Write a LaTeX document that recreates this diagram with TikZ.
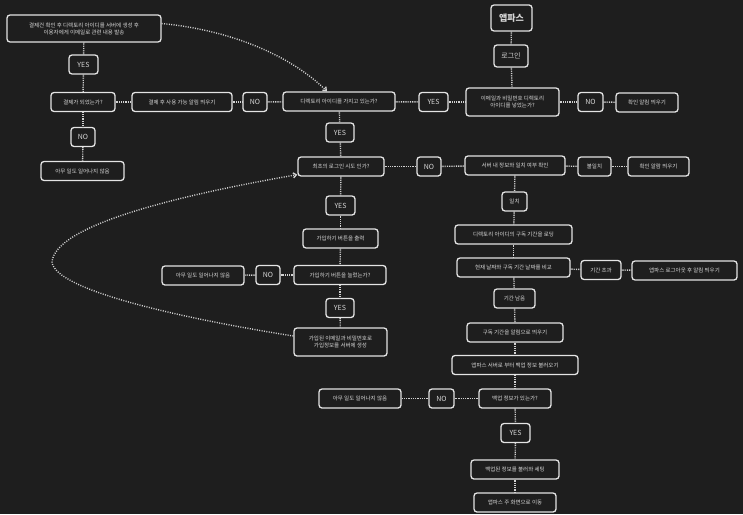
\documentclass[tikz,border=0pt]{standalone}
\usepackage{fontspec}
\newfontfamily\krfont{Noto Sans CJK KR}
\usetikzlibrary{arrows.meta}
\definecolor{bgdark}{RGB}{30,30,30}
\definecolor{boxline}{RGB}{228,228,228}
\definecolor{boxtext}{RGB}{215,215,215}
\definecolor{dotline}{RGB}{210,210,210}
\begin{document}
\begin{tikzpicture}[x=1pt, y=-1pt,
  box/.style={draw=boxline, fill=bgdark, text=boxtext, rounded corners=3pt, line width=1.3pt, minimum height=19pt, inner sep=1pt, align=center, font=\krfont\fontsize{5.5}{7}\selectfont},
  answer/.style={box, font=\krfont\fontsize{7}{8}\selectfont},
  link/.style={draw=dotline, line width=1.4pt, dash pattern=on 0.9pt off 0.9pt},
  jump/.style={draw=dotline, line width=1.4pt, dash pattern=on 1pt off 1.4pt, -{Straight Barb[length=3pt,width=5pt]}}]
\fill[bgdark] (0,0) rectangle (743,514);
\useasboundingbox (0,0) rectangle (743,514);
% payment branch
\node[box, minimum width=154pt, minimum height=27pt] (payok) at (84,28.5) {결제건 확인 후 디렉토리 아이디를 서버에 생성 후\\이용자에게 이메일로 관련 내용 발송};
\node[answer, minimum width=29pt] (yesa) at (83.5,64.5) {YES};
\node[box, minimum width=64pt] (paid) at (83,102) {결제가 되었는가?};
\node[answer, minimum width=24pt] (noa) at (83,137) {NO};
\node[box, minimum width=83pt] (nothinga) at (82.5,171) {아무 일도 일어나지 않음};
\node[box, minimum width=100pt] (usable) at (182,102) {결제 후 사용 가능 알림 띄우기};
\node[answer, minimum width=24pt] (nob) at (255,102) {NO};
% login
\node[box, minimum width=41pt, minimum height=26pt, font=\krfont\bfseries\fontsize{9}{10}\selectfont] (app) at (511.5,18) {앱파스};
\node[box, minimum width=34pt, minimum height=22pt, font=\krfont\fontsize{7}{8}\selectfont] (login) at (511,56) {로그인};
\node[box, minimum width=112pt] (hasdir) at (339,101.5) {디렉토리 아이디를 가지고 있는가?};
\node[answer, minimum width=29pt] (yesb) at (433.5,102) {YES};
\node[box, minimum width=93pt, minimum height=28pt] (entered) at (512.5,102) {이메일과 비밀번호 디렉토리\\아이디를 넣었는가?};
\node[answer, minimum width=25pt] (noc) at (590.5,102) {NO};
\node[box, minimum width=62pt] (alerta) at (647,102.5) {확인 알림 띄우기};
\node[answer, minimum width=28pt] (yesc) at (340,132.5) {YES};
\node[box, minimum width=86pt] (first) at (341,166.5) {최초의 로그인 시도 인가?};
\node[answer, minimum width=24pt] (nod) at (429,166.5) {NO};
\node[box, minimum width=100pt] (match) at (515,165.5) {서버 내 정보와 일치 여부 확인};
\node[box, minimum width=33pt] (mismatch) at (594.5,166.5) {불일치};
\node[box, minimum width=61pt] (alertb) at (658.5,166.5) {확인 알람 띄우기};
% subscription
\node[box, minimum width=25pt] (matched) at (514.5,201.5) {일치};
\node[box, minimum width=117pt] (loadterm) at (513.5,234.5) {디렉토리 아이디의 구독 기간을 로딩};
\node[box, minimum width=113pt] (compare) at (513.5,267.5) {현재 날짜와 구독 기간 날짜를 비교};
\node[box, minimum width=40pt] (expired) at (601,270) {기간 초과};
\node[box, minimum width=105pt] (logout) at (684.5,270.5) {앱파스 로그아웃 후 알림 띄우기};
\node[box, minimum width=41pt] (remain) at (514.5,298.5) {기간 남음};
\node[box, minimum width=96pt] (showterm) at (515,332.5) {구독 기간을 알림으로 띄우기};
% backup
\node[box, minimum width=126pt] (fetch) at (515,365) {앱파스 서버로 부터 백업 정보 불러오기};
\node[box, minimum width=72pt] (hasbackup) at (515,398.5) {백업 정보가 있는가?};
\node[answer, minimum width=25pt] (noe) at (441.5,398.5) {NO};
\node[box, minimum width=82pt] (nothingc) at (360,398.5) {아무 일도 일어나지 않음};
\node[answer, minimum width=29pt] (yese) at (515.5,433) {YES};
\node[box, minimum width=88pt] (restore) at (515,469.5) {백업된 정보를 불러와 세팅};
\node[box, minimum width=82pt] (home) at (515,502.5) {앱파스 주 화면으로 이동};
% sign up
\node[answer, minimum width=29pt] (yesd) at (340.5,205.5) {YES};
\node[box, minimum width=75pt] (showbtn) at (340.5,238.5) {가입하기 버튼을 출력};
\node[box, minimum width=92pt] (pressed) at (340,275) {가입하기 버튼을 눌렀는가?};
\node[answer, minimum width=24pt] (nof) at (268,275) {NO};
\node[box, minimum width=82pt] (nothingb) at (203,275.5) {아무 일도 일어나지 않음};
\node[answer, minimum width=28pt] (yesf) at (340,308) {YES};
\node[box, minimum width=93pt, minimum height=28pt] (signup) at (340.5,342) {가입된 이메일과 비밀번호로\\가입정보를 서버에 생성};
% links
\draw[link] (payok) -- (yesa);
\draw[link] (yesa) -- (paid);
\draw[link] (paid) -- (noa);
\draw[link] (noa) -- (nothinga);
\draw[link] (paid) -- (usable);
\draw[link] (usable) -- (nob);
\draw[link] (nob) -- (hasdir);
\draw[link] (app) -- (login);
\draw[link] (login) -- (entered);
\draw[link] (hasdir) -- (yesb);
\draw[link] (yesb) -- (entered);
\draw[link] (entered) -- (noc);
\draw[link] (noc) -- (alerta);
\draw[link] (hasdir) -- (yesc);
\draw[link] (yesc) -- (first);
\draw[link] (first) -- (nod);
\draw[link] (nod) -- (match);
\draw[link] (match) -- (mismatch);
\draw[link] (mismatch) -- (alertb);
\draw[link] (match) -- (matched);
\draw[link] (matched) -- (loadterm);
\draw[link] (loadterm) -- (compare);
\draw[link] (compare) -- (expired);
\draw[link] (expired) -- (logout);
\draw[link] (compare) -- (remain);
\draw[link] (remain) -- (showterm);
\draw[link] (showterm) -- (fetch);
\draw[link] (fetch) -- (hasbackup);
\draw[link] (hasbackup) -- (noe);
\draw[link] (noe) -- (nothingc);
\draw[link] (hasbackup) -- (yese);
\draw[link] (yese) -- (restore);
\draw[link] (restore) -- (home);
\draw[link] (first) -- (yesd);
\draw[link] (yesd) -- (showbtn);
\draw[link] (showbtn) -- (pressed);
\draw[link] (pressed) -- (nof);
\draw[link] (nof) -- (nothingb);
\draw[link] (pressed) -- (yesf);
\draw[link] (yesf) -- (signup);
% curved jumps
\draw[jump] ([yshift=5pt]payok.east) .. controls (230,30) and (290,55) .. ([xshift=-12pt]hasdir.north);
\draw[jump] ([yshift=6pt]signup.west) .. controls (180,318) and (55,290) .. (52,262) .. controls (55,225) and (180,195) .. ([yshift=2pt]first.south west);
\end{tikzpicture}
\end{document}
